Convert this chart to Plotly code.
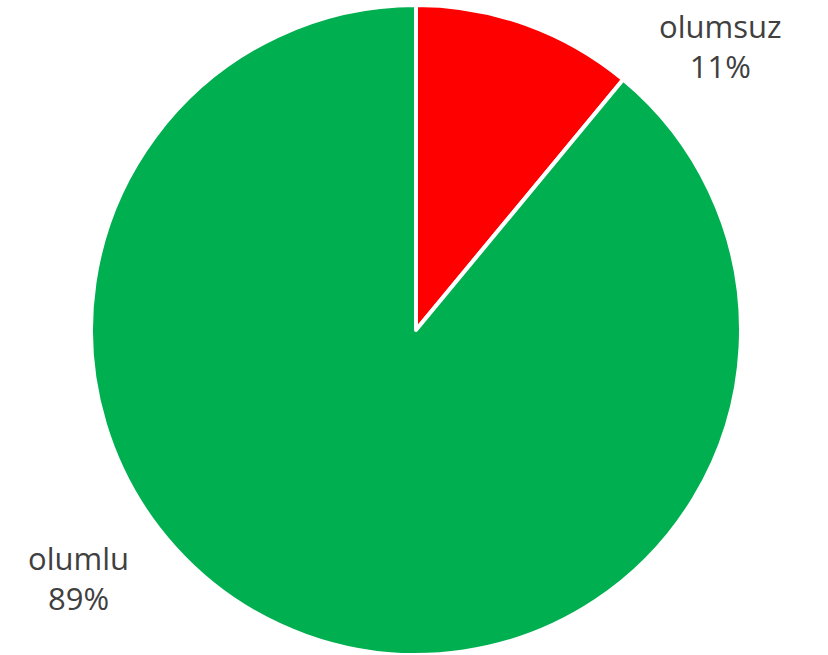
from plotly.graph_objects import Pie, Figure

labels = ['olumsuz', 'olumlu']
values = [11, 89]
colors = ['#ff0000', '#00b050']

W, H = 828, 655
R = 325
cx, cy = 416, 330

# label centres in pixels, Excel-style outside labels
label_px = {'olumsuz': (720, 46), 'olumlu': (78, 578)}

fig = Figure()
fig.add_trace(Pie(
    labels=labels,
    values=values,
    sort=False,
    direction='clockwise',
    rotation=0,
    textinfo='none',
    hoverinfo='label+percent',
    marker=dict(colors=colors, line=dict(color='#ffffff', width=4)),
    domain=dict(x=[(cx - R) / W, (cx + R) / W], y=[max(0, 1 - (cy + R) / H), 1 - (cy - R) / H]),
    showlegend=False,
))

total = sum(values)
for lab, val in zip(labels, values):
    px, py = label_px[lab]
    fig.add_annotation(
        x=px / W, y=1 - py / H, xref='paper', yref='paper',
        xanchor='center', yanchor='middle',
        text=f'{lab}<br>{round(val / total * 100)}%',
        showarrow=False, align='center',
        font=dict(family='Open Sans', size=31, color='#404040'),
    )

fig.update_layout(
    width=W, height=H,
    margin=dict(l=0, r=0, t=0, b=0),
    paper_bgcolor='#ffffff',
    plot_bgcolor='#ffffff',
)
# drop the default body margin so the figure sits at the page corner
fig.write_html("out.html", config={'displayModeBar': False},
               post_script="document.body.style.margin='0';")
